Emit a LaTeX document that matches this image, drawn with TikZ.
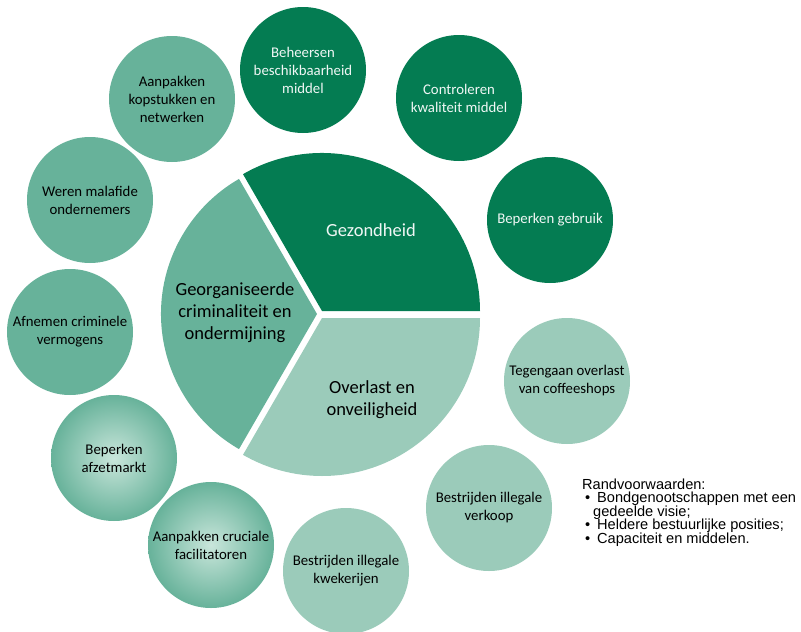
\documentclass[tikz,border=0pt]{standalone}
\usepackage{fontspec}
\newfontfamily\calfont{Carlito}
\newfontfamily\arialfont{Liberation Sans}
\usetikzlibrary{positioning}
\definecolor{gezgreen}{HTML}{047C52}
\definecolor{crimgreen}{HTML}{67B29A}
\definecolor{overgreen}{HTML}{9BCBBA}
\definecolor{glowgreen}{HTML}{C9E6DB}
\newcommand{\tightlines}{\lineskiplimit=-20pt\relax}

\tikzset{
	bubble/.style={circle, minimum size=126pt, inner sep=0pt, align=center,
		font=\calfont\fontsize{14.8}{18}\selectfont},
	gezfill/.style={fill=gezgreen, text=white!94!gezgreen},
	crimfill/.style={fill=crimgreen, text=black},
	glowfill/.style={inner color=glowgreen, outer color=crimgreen, text=black},
	overfill/.style={fill=overgreen, text=black},
	sectortext/.style={align=center, inner sep=0pt, font=\calfont\fontsize{18.5}{22}\selectfont}
}

\begin{document}
\begin{tikzpicture}[x=1pt,y=-1pt]
	\useasboundingbox (0,0) rectangle (801,632);
	% central pie, three pulled-apart sectors
	\fill[gezgreen] (322,311) -- ++(-120:158) arc[start angle=-120, end angle=0, radius=158] -- cycle;
	\fill[crimgreen] (317,314) -- ++(120:156) arc[start angle=120, end angle=240, radius=156] -- cycle;
	\fill[overgreen] (322,318) -- ++(0:158) arc[start angle=0, end angle=120, radius=158] -- cycle;
	\node[sectortext, text=white!94!gezgreen] (gezondheid) at (371,230) {Gezondheid};
	\node[sectortext] (criminaliteit) at (235,313) {Georganiseerde\\criminaliteit en\\ondermijning};
	\node[sectortext] (overlast) at (372,400) {Overlast en\\onveiligheid};
	% outer circles
	\foreach \x/\y/\name/\kind/\txt in {
		303/70/beheersen/gezfill/{Beheersen\\beschikbaarheid\\middel},
		459/98/controleren/gezfill/{Controleren\\kwaliteit middel},
		550/220/gebruik/gezfill/{Beperken gebruik},
		567/381/coffeeshops/overfill/{Tegengaan overlast\\van coffeeshops},
		489/508/verkoop/overfill/{Bestrijden illegale\\verkoop},
		346/571/kwekerijen/overfill/{Bestrijden illegale\\kwekerijen},
		211/545/facilitatoren/glowfill/{Aanpakken cruciale\\facilitatoren},
		114/458/afzetmarkt/glowfill/{Beperken\\afzetmarkt},
		70/332/vermogens/crimfill/{Afnemen criminele\\vermogens},
		90/200/malafide/crimfill/{Weren malafide\\ondernemers},
		172/99/kopstukken/crimfill/{Aanpakken\\kopstukken en\\netwerken}}
		\node[bubble, \kind] (\name) at (\x,\y) {\txt};
	% conditions (base = last line)
	\node[anchor=base west, align=left, inner sep=0pt,
		font=\arialfont\fontsize{14.6}{13.5}\selectfont\tightlines] (randvoorwaarden) at (582,543)
		{Randvoorwaarden:\\
		\hspace*{3pt}\makebox[12pt][l]{\textbullet}Bondgenootschappen met een\\
		\hspace*{11pt}gedeelde visie;\\
		\hspace*{3pt}\makebox[12pt][l]{\textbullet}Heldere bestuurlijke posities;\\
		\hspace*{3pt}\makebox[12pt][l]{\textbullet}Capaciteit en middelen.};
\end{tikzpicture}
\end{document}
